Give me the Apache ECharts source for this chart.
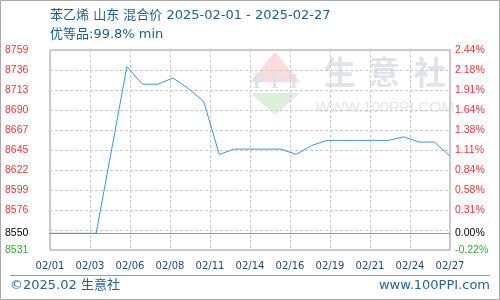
<!DOCTYPE html>
<html>
<head>
<meta charset="utf-8">
<script src="https://cdn.jsdelivr.net/npm/echarts@6/dist/echarts.min.js"></script>
<style>
html,body{margin:0;padding:0;background:#fff;}
#chart{width:500px;height:300px;}
</style>
</head>
<body>
<div id="chart"></div>
<script>
// ---- data ----
const dates = ['02/01','02/02','02/03','02/04','02/05','02/06','02/07','02/08','02/09','02/10',
  '02/11','02/12','02/13','02/14','02/15','02/16','02/17','02/18','02/19','02/20',
  '02/21','02/22','02/23','02/24','02/25','02/26','02/27'];
const prices = [8550, 8550, 8550, 8550, 8645, 8740, 8720, 8720, 8727, 8715,
  8700, 8640, 8646, 8646, 8646, 8646, 8640, 8650, 8656, 8656,
  8656, 8656, 8656, 8660, 8654, 8654, 8638];
const xTickLabels = ['02/01','02/03','02/06','02/08','02/11','02/14','02/16','02/19','02/21','02/24','02/27'];
const leftTickLabels = ['8531','','8576','8599','8622','8645','8667','8690','8713','8736','8759'];
const rightTickLabels = ['-0.22%','','0.31%','0.58%','0.84%','1.11%','1.38%','1.64%','1.91%','2.18%','2.44%'];
const baseValue = 8550;
const baseLeftLabel = '8550';
const baseRightLabel = '0.00%';
const yMin = 8531, yMax = 8759;
const titleLine1 = '苯乙烯 山东 混合价 2025-02-01 - 2025-02-27';
const titleLine2 = '优等品:99.8% min';
const footerLeft = '©2025.02 生意社';
const footerRight = 'www.100PPI.com';

const chart = echarts.init(document.getElementById('chart'), null, {renderer:'canvas'});
const seriesData = prices.map((p, i) => [i, p]);
const xMax = dates.length - 1;
const xInterval = xMax / (xTickLabels.length - 1);
const nSplit = leftTickLabels.length - 1;

function labelColor(i) { return i === 0 ? '#33aa33' : '#ff3333'; }

const option = {
  animation: false,
  backgroundColor: '#fff',
  grid: {left: 50, right: 50, top: 50, bottom: 50, show: true, borderColor: '#999', borderWidth: 1, backgroundColor: 'transparent'},
  xAxis: {
    type: 'value', min: 0, max: xMax, interval: xInterval,
    axisLine: {show: false}, axisTick: {show: false},
    splitLine: {show: true, lineStyle: {color: '#c8c8c8', type: [3, 2], width: 1}},
    axisLabel: {
      formatter: v => xTickLabels[Math.round(v / xInterval)] || '',
      color: '#1a4a7a', fontFamily: 'DejaVu Sans', fontSize: 10, margin: 11,
      showMinLabel: true, showMaxLabel: true
    }
  },
  yAxis: [
    {type: 'value', min: yMin, max: yMax, axisLine: {show: false}, axisTick: {show: false},
     axisLabel: {show: false}, splitLine: {show: false}},
    {type: 'value', min: 0, max: nSplit, interval: 1, position: 'left',
     axisLine: {show: false}, axisTick: {show: false},
     splitLine: {show: true, lineStyle: {color: '#c8c8c8', type: [3, 2], width: 1}},
     axisLabel: {formatter: v => leftTickLabels[Math.round(v)],
       color: (v) => labelColor(Math.round(Number(v))),
       align: 'left', margin: 45, fontFamily: 'Liberation Sans', fontSize: 10.5,
       showMinLabel: true, showMaxLabel: true}},
    {type: 'value', min: 0, max: nSplit, interval: 1, position: 'right',
     axisLine: {show: false}, axisTick: {show: false}, splitLine: {show: false},
     axisLabel: {formatter: v => rightTickLabels[Math.round(v)],
       color: (v) => labelColor(Math.round(Number(v))),
       align: 'left', margin: 5, fontFamily: 'Liberation Sans', fontSize: 10.5,
       showMinLabel: true, showMaxLabel: true}}
  ],
  series: [{
    type: 'line', xAxisIndex: 0, yAxisIndex: 0, data: seriesData,
    showSymbol: false, symbol: 'none', z: 3,
    lineStyle: {color: '#3898d8', width: 1},
    markLine: {
      silent: true, symbol: ['none', 'none'], z: 1, animation: false,
      lineStyle: {color: '#999', type: 'solid', width: 1},
      data: [
        {yAxis: baseValue, label: {show: true, position: 'start', formatter: baseLeftLabel, align: 'left', distance: 45,
          color: '#000', fontFamily: 'Liberation Sans', fontSize: 10.5}},
        {yAxis: baseValue, label: {show: true, position: 'end', formatter: baseRightLabel, align: 'left', distance: 5,
          color: '#000', fontFamily: 'Liberation Sans', fontSize: 10.5}}
      ]
    }
  }],
  graphic: [
    {type: 'rect', z: -5, silent: true, shape: {x: 0.5, y: 0.5, width: 499, height: 299}, style: {fill: 'none', stroke: '#aaa', lineWidth: 1}},
    // watermark
    {type: 'polygon', z: -5, silent: true, shape: {points: [[250, 82], [275, 52], [300, 82]]}, style: {fill: '#fadcdc'}},
    {type: 'polygon', z: -5, silent: true, shape: {points: [[250, 93], [300, 93], [275, 115]]}, style: {fill: '#dcf0dc'}},
    {type: 'text', z: -4, silent: true, style: {text: 'P', x: 259, y: 83, align: 'center', verticalAlign: 'middle', font: 'bold 20px "Liberation Serif"', fill: '#dbe2ee'}},
    {type: 'text', z: -4, silent: true, style: {text: 'P', x: 277, y: 83, align: 'center', verticalAlign: 'middle', font: 'bold 20px "Liberation Serif"', fill: '#dbe2ee'}},
    {type: 'text', z: -4, silent: true, style: {text: 'I', x: 294, y: 83, align: 'center', verticalAlign: 'middle', font: 'bold 20px "Liberation Serif"', fill: '#dbe2ee'}},
    {type: 'text', z: -4, silent: true, style: {text: '生', x: 340, y: 72, align: 'center', verticalAlign: 'middle', font: 'bold 32px "Noto Sans CJK SC"', fill: '#dfe3ec'}},
    {type: 'text', z: -4, silent: true, style: {text: '意', x: 384, y: 72, align: 'center', verticalAlign: 'middle', font: 'bold 32px "Noto Sans CJK SC"', fill: '#dfe3ec'}},
    {type: 'text', z: -4, silent: true, style: {text: '社', x: 430, y: 72, align: 'center', verticalAlign: 'middle', font: 'bold 32px "Noto Sans CJK SC"', fill: '#dfe3ec'}},
    {type: 'text', z: -4, silent: true, style: {text: 'WWW.100PPI.COM', x: 385, y: 108, align: 'center', verticalAlign: 'middle', font: '15.5px "Liberation Sans"', fill: '#e6e6e6'}},
    // titles
    {type: 'text', silent: true, style: {text: titleLine1, x: 50, y: 15.5, align: 'left', verticalAlign: 'middle', font: '13px "DejaVu Sans", "Noto Sans CJK SC"', fill: '#1b5e8c'}},
    {type: 'text', silent: true, style: {text: titleLine2, x: 50, y: 35, align: 'left', verticalAlign: 'middle', font: '13px "DejaVu Sans", "Noto Sans CJK SC"', fill: '#1b5e8c'}},
    // footer
    {type: 'line', silent: true, shape: {x1: 10, y1: 275.5, x2: 490, y2: 275.5}, style: {stroke: '#999', lineWidth: 1}},
    {type: 'text', silent: true, style: {text: footerLeft, x: 10, y: 286, align: 'left', verticalAlign: 'middle', font: '13px "DejaVu Sans", "Noto Sans CJK SC"', fill: '#1f6495'}},
    {type: 'text', silent: true, style: {text: footerRight, x: 490, y: 286, align: 'right', verticalAlign: 'middle', font: '13px "DejaVu Sans", "Noto Sans CJK SC"', fill: '#1f6495'}}
  ]
};
chart.setOption(option);
</script>
</body>
</html>
